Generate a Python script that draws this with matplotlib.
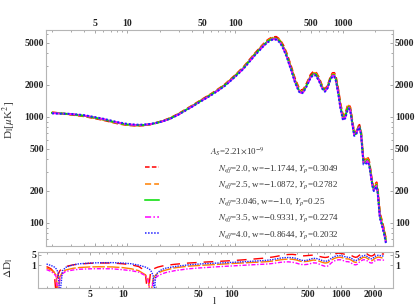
import numpy as np
import matplotlib
matplotlib.use('Agg')
import matplotlib.pyplot as plt
from matplotlib.ticker import FixedLocator, FixedFormatter, NullFormatter, NullLocator

# ---------------- data ----------------
ell = [2, 2.2, 2.35, 2.45, 2.55, 2.65, 2.8, 3, 3.5, 4,
       5, 6, 8, 10, 12, 14, 16, 17, 18, 19,
       19.5, 20, 21, 23, 25, 30, 40, 50, 60, 70,
       80, 100, 120, 150, 180, 200, 220, 240, 260, 280,
       300, 330, 360, 390, 410, 430, 460, 500, 530, 560,
       600, 640, 680, 720, 760, 800, 830, 860, 900, 950,
       1000, 1050, 1100, 1130, 1170, 1220, 1270, 1320, 1370, 1420,
       1470, 1550, 1610, 1680, 1740, 1800, 1870, 1930, 1990, 2050,
       2100, 2200, 2300, 2400, 2500]

# fiducial spectrum D_l [muK^2]  (N_eff = 3.046)
D_fid = [1090, 1083, 1078, 1075, 1072, 1069, 1064, 1057, 1040, 1022,
         980, 945, 880, 845, 833, 835, 848, 858, 868, 880,
         886, 893, 906, 935, 965, 1060, 1260, 1450, 1620, 1800,
         1980, 2420, 2900, 3800, 4650, 5150, 5450, 5480, 5150, 4500,
         3800, 2850, 2150, 1780, 1700, 1740, 1980, 2380, 2540, 2520,
         2230, 1890, 1760, 1900, 2250, 2480, 2470, 2250, 1750, 1230,
         970, 1010, 1190, 1240, 1160, 880, 680, 690, 770, 810,
         700, 370, 372, 392, 370, 300, 230, 205, 218, 228,
         195, 115, 98, 82, 67]

# signed relative difference to the fiducial, in percent
dD_red = [0.85, 0.6, 0.35, 0.01, -0.25, -0.45, -0.65, -0.85, -1.1, -1.25,
          -1.4, -1.47, -1.45, -1.3, -1.1, -0.85, -0.45, 0.01, 0.35, 0.55,
          0.62, 0.68, 0.78, 0.92, 1.02, 1.2, 1.45, 1.6, 1.72, 1.82,
          1.92, 2.1, 2.3, 2.6, 2.9, 3.1, 3.4, 3.7, 4.1, 4.6,
          5.0, 5.4, 5.5, 5.2, 4.8, 4.5, 4.4, 4.6, 4.8, 4.9,
          4.6, 4.0, 3.6, 3.4, 3.6, 4.4, 5.1, 5.7, 6.2, 6.6,
          6.5, 6.0, 5.5, 5.3, 5.3, 5.0, 4.4, 3.8, 3.5, 3.7,
          4.6, 5.9, 6.6, 6.7, 6.0, 5.0, 4.4, 4.3, 4.8, 5.6,
          6.2, 6.8, 6.5, 5.9, 5.8]
dD_orange = [0.68, 0.5, 0.35, 0.22, 0.01, -0.18, -0.35, -0.5, -0.65, -0.73,
             -0.8, -0.82, -0.8, -0.72, -0.6, -0.45, -0.25, -0.14, 0.01, 0.12,
             0.18, 0.22, 0.3, 0.42, 0.5, 0.7, 0.9, 1.0, 1.08, 1.15,
             1.22, 1.35, 1.45, 1.58, 1.68, 1.75, 1.85, 2.0, 2.2, 2.4,
             2.55, 2.65, 2.6, 2.35, 2.1, 1.9, 1.8, 1.9, 2.1, 2.3,
             2.2, 1.9, 1.6, 1.45, 1.55, 2.0, 2.4, 2.8, 3.2, 3.5,
             3.5, 3.2, 2.9, 2.75, 2.75, 2.5, 2.1, 1.75, 1.6, 1.75,
             2.3, 3.0, 3.5, 3.5, 3.1, 2.6, 2.2, 2.1, 2.4, 2.9,
             3.2, 3.6, 3.5, 3.2, 3.2]
dD_green = [0.0] * len(ell)
dD_magenta = [-0.53, -0.4, -0.28, -0.18, 0.01, 0.14, 0.28, 0.4, 0.5, 0.56,
              0.6, 0.61, 0.6, 0.52, 0.45, 0.36, 0.22, 0.12, 0.01, -0.08,
              -0.12, -0.15, -0.2, -0.28, -0.34, -0.45, -0.6, -0.68, -0.74, -0.8,
              -0.85, -0.93, -1.0, -1.1, -1.18, -1.22, -1.28, -1.38, -1.5, -1.62,
              -1.7, -1.75, -1.65, -1.45, -1.3, -1.18, -1.12, -1.2, -1.35, -1.5,
              -1.45, -1.2, -1.0, -0.88, -0.92, -1.25, -1.6, -1.9, -2.2, -2.4,
              -2.4, -2.15, -1.9, -1.8, -1.8, -1.6, -1.35, -1.15, -1.1, -1.2,
              -1.6, -2.1, -2.4, -2.4, -2.1, -1.75, -1.5, -1.45, -1.65, -2.0,
              -2.2, -2.4, -2.35, -2.25, -2.3]
dD_blue = [-1.25, -1.0, -0.8, -0.6, -0.35, 0.01, 0.45, 0.75, 1.1, 1.3,
           1.45, 1.52, 1.55, 1.45, 1.3, 1.05, 0.8, 0.65, 0.5, 0.22,
           0.01, -0.2, -0.35, -0.55, -0.67, -0.85, -1.1, -1.25, -1.35, -1.42,
           -1.48, -1.6, -1.72, -1.9, -2.05, -2.15, -2.3, -2.5, -2.8, -3.1,
           -3.3, -3.4, -3.3, -3.0, -2.6, -2.3, -2.1, -2.3, -2.7, -3.0,
           -2.9, -2.5, -2.1, -1.9, -2.0, -2.6, -3.2, -3.7, -4.2, -4.6,
           -4.6, -4.2, -3.8, -3.6, -3.6, -3.3, -2.8, -2.3, -2.1, -2.3,
           -3.0, -4.0, -4.6, -4.7, -4.1, -3.4, -2.9, -2.8, -3.2, -3.8,
           -4.3, -4.8, -4.6, -4.3, -4.3]

labels = [r'$N_{eff}$=2.0, w=$-$1.1744, $Y_p$=0.3049',
          r'$N_{eff}$=2.5, w=$-$1.0872, $Y_p$=0.2782',
          r'$N_{eff}$=3.046, w=$-$1.0, $Y_p$=0.25',
          r'$N_{eff}$=3.5, w=$-$0.9331, $Y_p$=0.2274',
          r'$N_{eff}$=4.0, w=$-$0.8644, $Y_p$=0.2032']
title = r'$A_S$=2.21$\times$10$^{-9}$'

x_major_top = [5, 10, 50, 100, 500, 1000]
x_major_bot = [5, 10, 50, 100, 500, 1000, 2000]
x_minor = [2, 3, 4, 6, 7, 8, 9, 20, 30, 40, 60, 70, 80, 90,
           200, 300, 400, 600, 700, 800, 900, 2000]
y_major_top = [100, 200, 500, 1000, 2000, 5000]
y_minor_top = [70, 80, 90, 300, 400, 600, 700, 800, 900, 3000, 4000, 6000]
y_major_bot = [1, 5]

# ---------------- styling ----------------
plt.rcParams['font.family'] = ['Liberation Serif', 'DejaVu Serif']
plt.rcParams['mathtext.fontset'] = 'stix'

colors = ['#ff0000', '#ff8000', '#00dd00', '#ff00ff', '#2020ff']
styles_top = [(0, (3, 1.5)), (0, (4, 2)), '-', (0, (4, 1.5, 1, 1.5)), (0, (1, 1))]
styles_bot = [(0, (7, 5)), (0, (9, 1.5)), '-', (0, (3, 1.2, 1, 1.2)), (0, (1, 0.8))]
series = [dD_red, dD_orange, dD_green, dD_magenta, dD_blue]

W, H = 415, 308
fig = plt.figure(figsize=(W / 100, H / 100), dpi=100)
ax1 = fig.add_axes([46 / W, 1 - 245.7 / H, 346.7 / W, 215.7 / H])
ax2 = fig.add_axes([38.3 / W, 1 - 288.3 / H, 354.4 / W, 36 / H])

l_arr = np.array(ell)
Dfid = np.array(D_fid)
handles = []
for dd, c, ls in zip(series, colors, styles_top):
    Dl = Dfid * (1 + np.array(dd) / 100.0)
    h, = ax1.plot(l_arr, Dl, color=c, ls=ls, lw=1.4)
    handles.append(h)

for dd, c, ls in zip(series, colors, styles_bot):
    a = np.abs(np.array(dd))
    if np.all(a == 0):
        continue
    ax2.plot(l_arr, a, color=c, ls=ls, lw=1.0)

frame_col = '#b5b5b5'
tick_col = '#999999'
for ax in (ax1, ax2):
    ax.set_xscale('log')
    ax.set_yscale('log')
    for s in ax.spines.values():
        s.set_color(frame_col)
        s.set_linewidth(0.8)

ax1.set_xlim(1.76, 2890)
ax1.set_ylim(60.8, 6590)
ax2.set_xlim(1.68, 3000)
ax2.set_ylim(0.030, 7.57)

ax1.xaxis.set_major_locator(FixedLocator(x_major_top))
ax1.xaxis.set_major_formatter(FixedFormatter([str(v) for v in x_major_top]))
ax1.xaxis.set_minor_locator(FixedLocator(x_minor))
ax1.xaxis.set_minor_formatter(NullFormatter())
ax1.yaxis.set_major_locator(FixedLocator(y_major_top))
ax1.yaxis.set_major_formatter(FixedFormatter([str(v) for v in y_major_top]))
ax1.yaxis.set_minor_locator(FixedLocator(y_minor_top))
ax1.yaxis.set_minor_formatter(NullFormatter())
ax1.tick_params(axis='x', which='both', top=True, bottom=True, labeltop=True,
                labelbottom=False, direction='in', color=tick_col, pad=1.5)
ax1.tick_params(axis='y', which='both', left=True, right=True, labelleft=True,
                labelright=True, direction='in', color=tick_col, pad=1.5)

ax2.xaxis.set_major_locator(FixedLocator(x_major_bot))
ax2.xaxis.set_major_formatter(FixedFormatter([str(v) for v in x_major_bot]))
ax2.xaxis.set_minor_locator(FixedLocator(x_minor))
ax2.xaxis.set_minor_formatter(NullFormatter())
ax2.yaxis.set_major_locator(FixedLocator(y_major_bot))
ax2.yaxis.set_major_formatter(FixedFormatter([str(v) for v in y_major_bot]))
ax2.yaxis.set_minor_locator(NullLocator())
ax2.tick_params(axis='x', which='both', top=True, bottom=True, labeltop=False,
                labelbottom=True, direction='in', color=tick_col, pad=1.5)
ax2.tick_params(axis='y', which='both', left=True, right=True, labelleft=True,
                labelright=True, direction='in', color=tick_col, pad=1.5)

for ax in (ax1, ax2):
    ax.tick_params(which='major', length=2.5, width=0.6)
    ax.tick_params(which='minor', length=1.5, width=0.6)
    for lab in ax.get_xticklabels() + ax.get_yticklabels():
        lab.set_fontsize(7)
        lab.set_fontweight('bold')
        lab.set_color('#222222')

# axis labels
fig.text(9 / W, 1 - 120 / H, r'D$_\mathrm{l}$[$\mu$K$^2$]', rotation=90,
         ha='center', va='center', fontsize=8, color='#333333')
fig.text(9 / W, 1 - 268 / H, r'$\Delta$D$_\mathrm{l}$', rotation=90,
         ha='center', va='center', fontsize=8, color='#333333')
fig.text(214 / W, 1 - 302 / H, 'l', ha='center', va='center', fontsize=8,
         color='#333333')

# legend
fig.text(210 / W, 1 - 152 / H, title, ha='left', va='center', fontsize=6.5,
         color='#333333')
leg = ax1.legend(handles, labels, loc='upper left',
                 bbox_to_anchor=(145 / W, 1 - 163 / H),
                 bbox_transform=fig.transFigure, frameon=False,
                 fontsize=6.5, handlelength=1.5, handletextpad=6.6,
                 labelspacing=0.52, borderpad=0, borderaxespad=0)
for t in leg.get_texts():
    t.set_color('#333333')
for h in leg.legend_handles:
    h.set_linewidth(1.1)

fig.savefig('out.png', dpi=100)
